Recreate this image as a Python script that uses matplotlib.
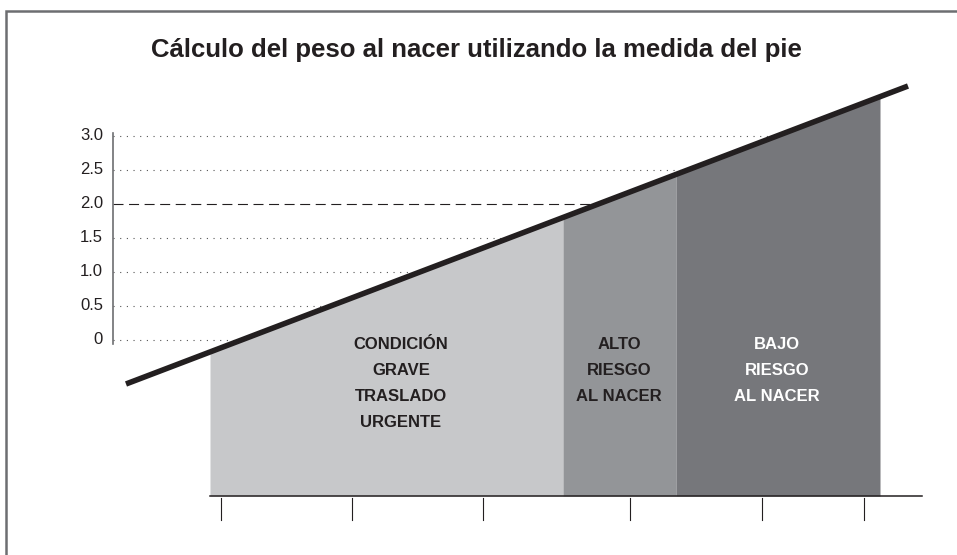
import matplotlib.pyplot as plt
import numpy as np

plt.rcParams['font.family'] = ['Liberation Sans', 'DejaVu Sans']

# datos: peso al nacer (kg) y bandas de riesgo
titulo = 'Cálculo del peso al nacer utilizando la medida del pie'
y_ticks = [0, 0.5, 1.0, 1.5, 2.0, 2.5, 3.0]
y_labels = ['0', '0.5', '1.0', '1.5', '2.0', '2.5', '3.0']
limite_peso = 2.0  # linea discontinua

# recta de estimacion (posicion del pie -> peso)
recta_x = [126, 908]
recta_y = [-0.647, 3.735]

# bandas (limites en x) y sus rotulos
bandas_x = [210, 563, 676, 880]
bandas_color = ['#c7c8ca', '#939598', '#76777b']
bandas_texto = ['CONDICIÓN\nGRAVE\nTRASLADO\nURGENTE',
                'ALTO\nRIESGO\nAL NACER',
                'BAJO\nRIESGO\nAL NACER']
texto_x = [401, 619, 777]
texto_color = ['#231f20', '#231f20', 'white']

ticks_x = [221, 352, 483, 630, 762, 864]
base_y = -2.294

fig = plt.figure(figsize=(9.57, 5.55), dpi=100)
ax = fig.add_axes([0, 0, 1, 1])
ax.set_xlim(0, 957)
ax.set_ylim(-3.162, 5.0)
ax.axis('off')

pend = (recta_y[1] - recta_y[0]) / (recta_x[1] - recta_x[0])
def recta(x):
    return recta_y[0] + pend * (np.asarray(x) - recta_x[0])

eje_x = 113
# lineas de referencia, cortadas en la recta
for v, lab in zip(y_ticks, y_labels):
    x_fin = recta_x[0] + (v - recta_y[0]) / pend
    if v == limite_peso:
        ax.plot([eje_x, x_fin], [v, v], color='#231f20', lw=0.8,
                dashes=(9, 5), zorder=1)
    else:
        ax.plot([eje_x, x_fin], [v, v], color='#555555', lw=0.8,
                dashes=(1, 5), zorder=1)
    ax.text(eje_x - 10, v, lab, ha='right', va='center',
            fontsize=12, color='#231f20')

ax.plot([eje_x, eje_x], [3.05, -0.06], color='#6d6e71', lw=1.2, zorder=2)

# bandas de riesgo
for i in range(3):
    xs = np.linspace(bandas_x[i], bandas_x[i + 1], 50)
    ax.fill_between(xs, base_y, recta(xs), color=bandas_color[i], lw=0, zorder=2)
    ax.text(texto_x[i], 0.04, bandas_texto[i], ha='center', va='top',
            fontsize=12, fontweight='bold', color=texto_color[i],
            linespacing=1.9, zorder=4)

ax.plot(recta_x, recta_y, color='#231f20', lw=4, solid_capstyle='butt', zorder=5)

# eje inferior y marcas
ax.plot([bandas_x[0], 922], [base_y, base_y], color='#231f20', lw=1.1, zorder=3)
for t in ticks_x:
    ax.plot([t, t], [base_y - 0.03, base_y - 0.35], color='#231f20', lw=0.8)

ax.text(476, 4.27, titulo, ha='center', va='center', fontsize=18.5,
        fontweight='bold', color='#231f20')

# marco
ax.plot([6, 6, 957], [-3.2, 4.84, 4.84], color='#6d6e71', lw=1.8,
        solid_joinstyle='miter', clip_on=False)

fig.savefig('out.png', dpi=100)
